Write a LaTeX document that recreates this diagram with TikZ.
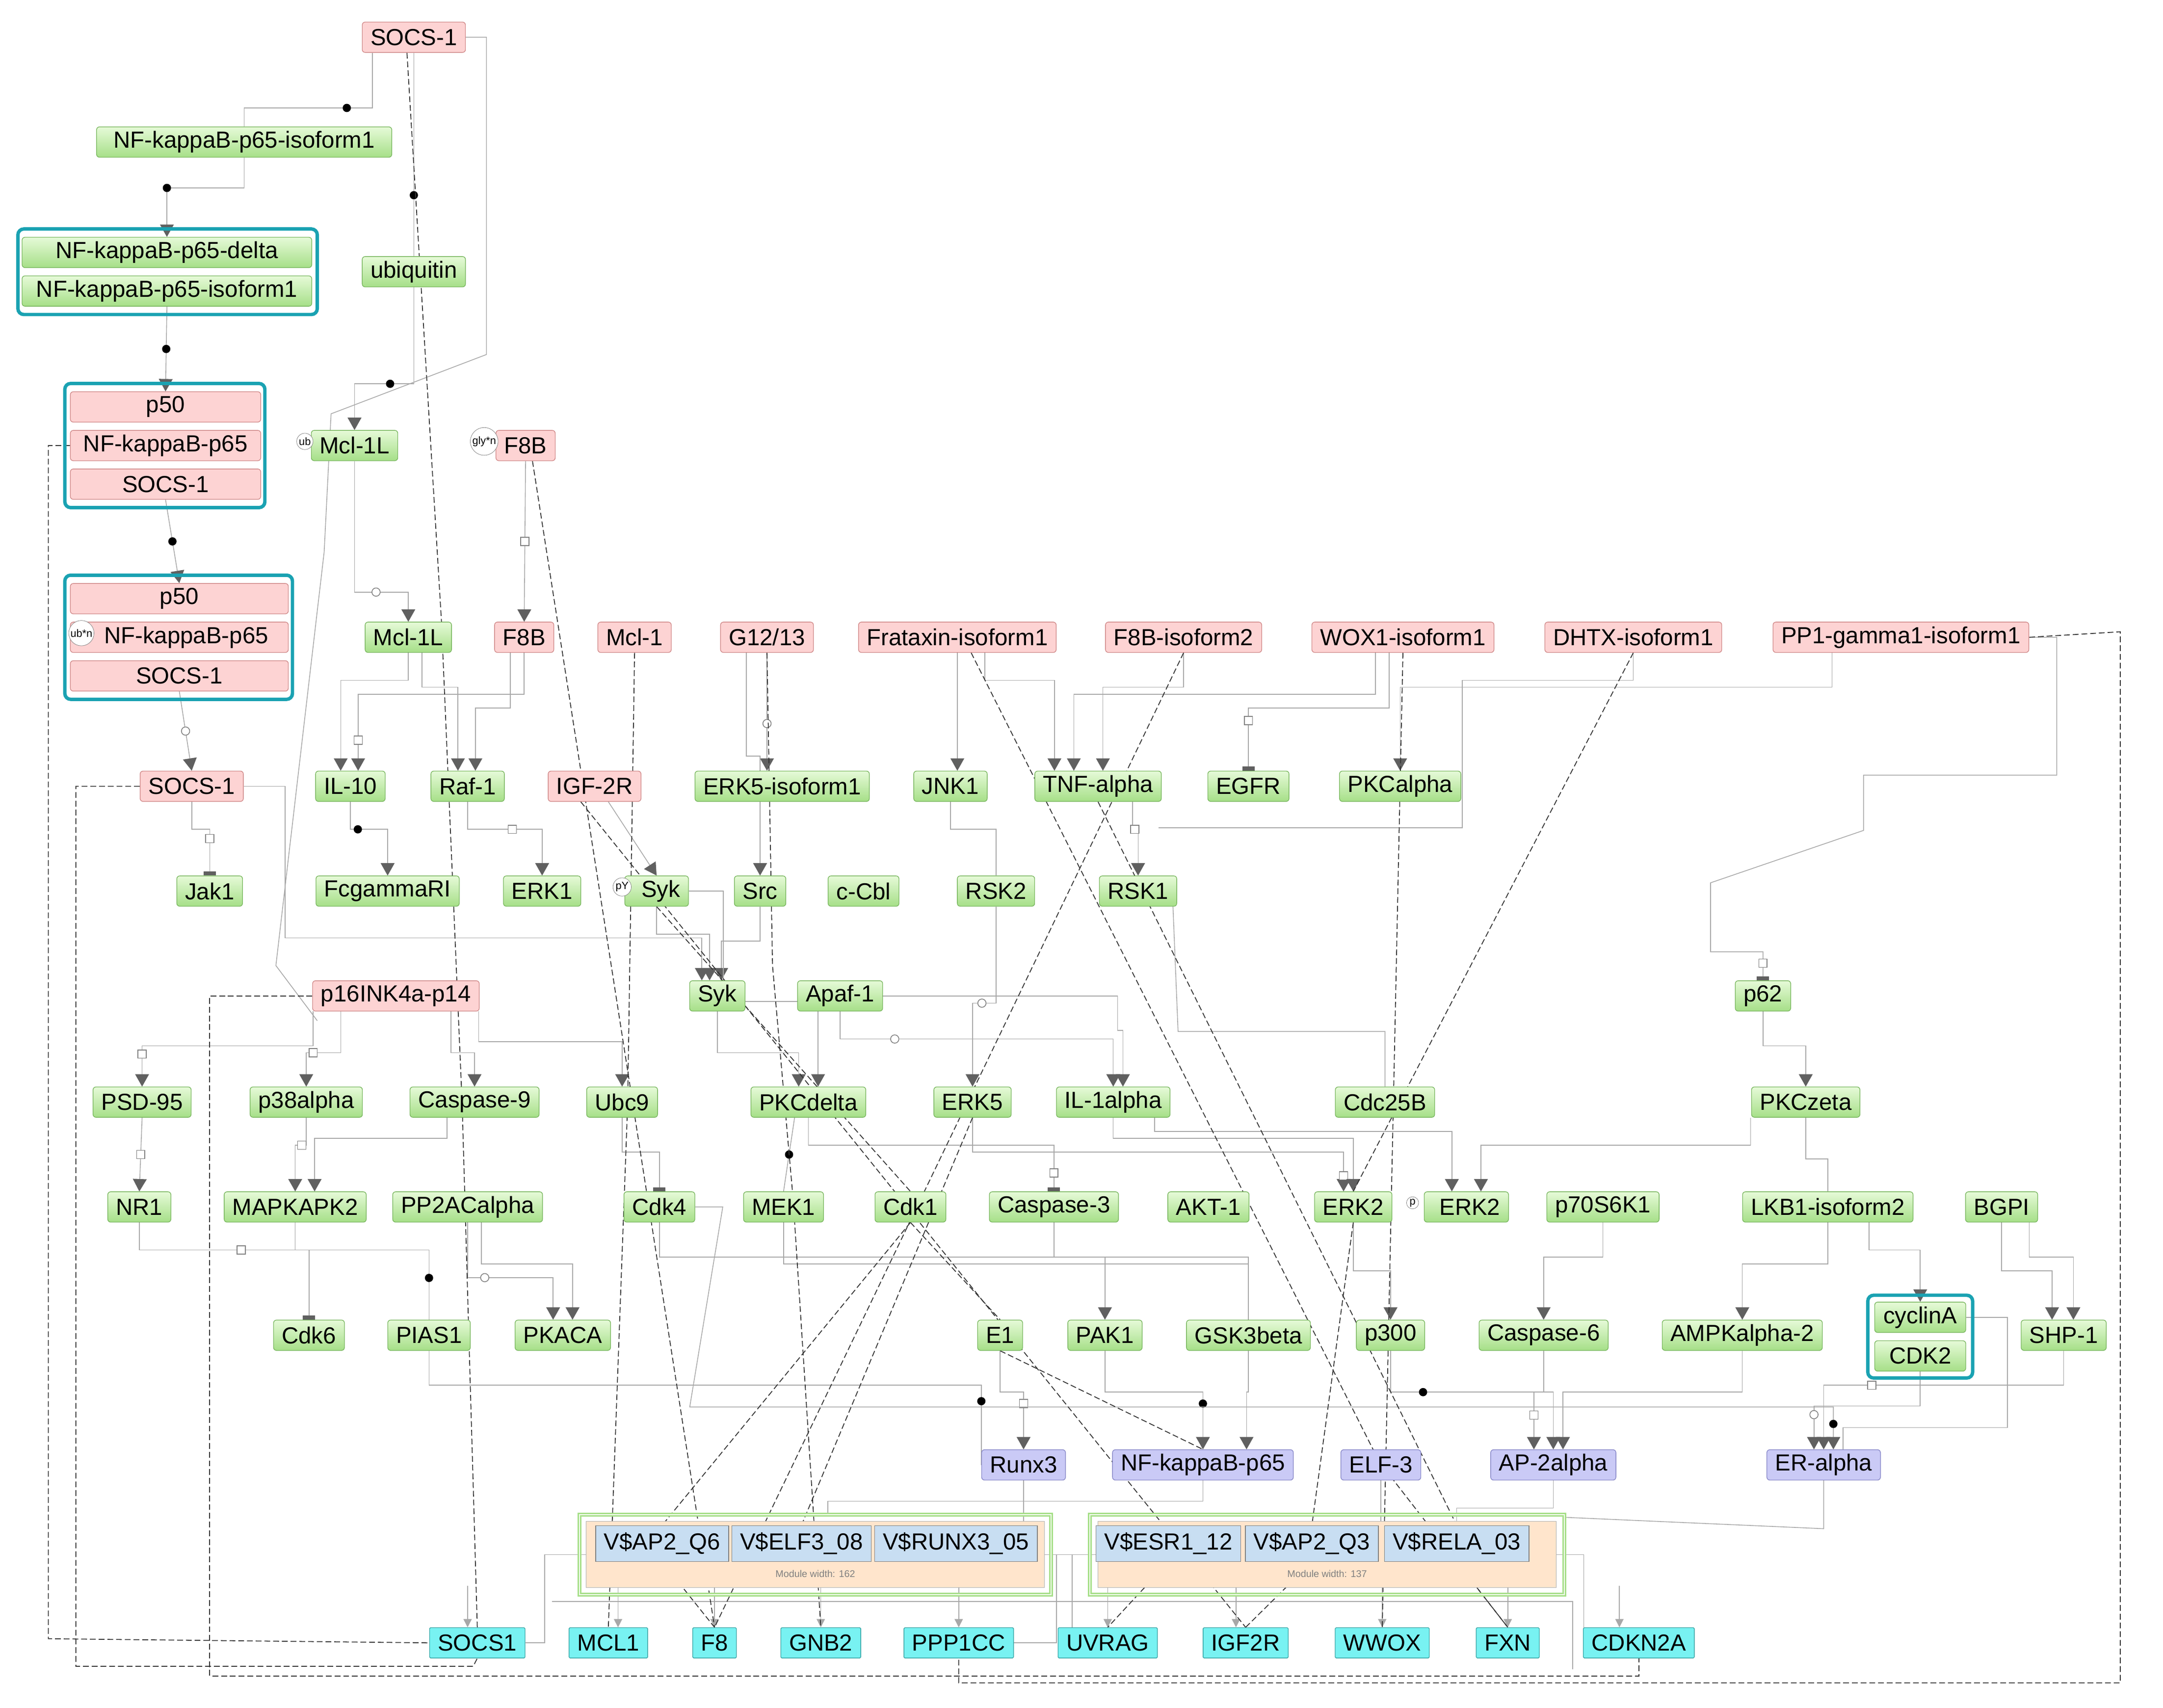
\documentclass[tikz,border=0pt]{standalone}
\usepackage{fontspec}
\setmainfont{Liberation Sans}
\usetikzlibrary{arrows.meta,positioning,backgrounds}
\definecolor{gt}{HTML}{E6FAD8}\definecolor{gb}{HTML}{A6DF88}\definecolor{gd}{HTML}{78B65E}
\definecolor{pf}{HTML}{FDD3D3}\definecolor{pd}{HTML}{D08888}
\definecolor{uf}{HTML}{CACAF6}\definecolor{ud}{HTML}{8888C8}
\definecolor{cf}{HTML}{78F2F2}\definecolor{cd}{HTML}{38A4A4}
\definecolor{tl}{HTML}{1AA2B2}\definecolor{eg}{HTML}{A8A8A8}\definecolor{ah}{HTML}{606060}
\definecolor{cel}{HTML}{C8DEF2}
\tikzset{
 nb/.style={rectangle,rounded corners=3pt,minimum height=1.1cm,inner xsep=0.3cm,font=\fontsize{24}{27}\selectfont,line width=0.7pt},
 gr/.style={nb,top color=gt,bottom color=gb,draw=gd},
 pk/.style={nb,fill=pf,draw=pd},
 pu/.style={nb,fill=uf,draw=ud},
 cy/.style={nb,fill=cf,draw=cd,rounded corners=1pt},
 cell/.style={nb,rounded corners=0pt,fill=cel,draw=gray,minimum height=1.3cm},
 bd/.style={circle,draw=gray,fill=white,inner sep=0.8pt,font=\fontsize{11}{12}\selectfont},
 cxb/.style={tl,line width=3.5pt,rounded corners=6pt},
 ed/.style={draw=eg,line width=0.8pt},
 ar/.style={ed,-{Triangle[width=0.5cm,length=0.45cm,fill=ah,color=ah]}},
 te/.style={ed,-{Rectangle[width=0.45cm,length=0.15cm,fill=ah,color=ah]}},
 da/.style={draw=black!80,line width=0.9pt,dash pattern=on 6pt off 3pt},
 dt/.style={circle,fill=black,inner sep=0pt,minimum size=0.3cm},
 sq/.style={rectangle,draw=gray,fill=white,inner sep=0pt,minimum size=0.3cm},
 oc/.style={circle,draw=gray,fill=white,inner sep=0pt,minimum size=0.3cm},
}
\begin{document}
\begin{tikzpicture}[x=0.05cm,y=-0.05cm]
\useasboundingbox (0,0) rectangle (1568,1238);
% ---------- top chain
\node[pk] (socsT) at (300,27) {SOCS-1};
\node[gr,minimum width=10.7cm] (nfi1) at (177,103) {NF-kappaB-p65-isoform1};
\draw[cxb] (13,166) rectangle (230,228);
\node[gr,minimum width=10.5cm] (cx1a) at (121,183) {NF-kappaB-p65-delta};
\node[gr,minimum width=10.5cm] (cx1) at (121,211) {NF-kappaB-p65-isoform1};
\draw[cxb] (47,278) rectangle (192,368);
\node[pk,minimum width=6.9cm] (cx2) at (120,295) {p50};
\node[pk,minimum width=6.9cm] at (120,323) {NF-kappaB-p65};
\node[pk,minimum width=6.9cm] (cx2c) at (120,351) {SOCS-1};
\draw[cxb] (47,417) rectangle (212,507);
\node[pk,minimum width=7.9cm] (cx3) at (130,434) {p50};
\node[pk,minimum width=7.9cm] (cx3b) at (130,462) {\hspace{0.5cm}NF-kappaB-p65};
\node[bd] at (59,459) {ub*n};
\node[pk,minimum width=7.9cm] (cx3c) at (130,490) {SOCS-1};
\node[gr] (ubi) at (300,197) {ubiquitin};
\node[gr] (mcla) at (257,323) {Mcl-1L}; \node[bd] at (221,320) {ub};
\node[pk] (f8ba) at (381,323) {F8B}; \node[bd] at (351,320) {gly*n};
% ---------- row 462
\node[gr] (mclb) at (296,462) {Mcl-1L};
\node[pk] (f8bb) at (380,462) {F8B};
\node[pk] (mcl1) at (460,462) {Mcl-1};
\node[pk] (g12) at (556,462) {G12/13};
\node[pk] (frat) at (694,462) {Frataxin-isoform1};
\node[pk] (f8bi) at (858,462) {F8B-isoform2};
\node[pk] (wox) at (1017,462) {WOX1-isoform1};
\node[pk] (dhtx) at (1184,462) {DHTX-isoform1};
\node[pk] (pp1) at (1378,462) {PP1-gamma1-isoform1};
% ---------- row 570
\node[pk] (socsM) at (139,570) {SOCS-1};
\node[gr] (il10) at (254,570) {IL-10};
\node[gr] (raf) at (339,570) {Raf-1};
\node[pk] (igf) at (431,570) {IGF-2R};
\node[gr] (erk5i) at (567,570) {ERK5-isoform1};
\node[gr] (jnk) at (689,570) {JNK1};
\node[gr] (tnf) at (796,570) {TNF-alpha};
\node[gr] (egfr) at (905,570) {EGFR};
\node[gr] (pkca) at (1015,570) {PKCalpha};
% ---------- row 646
\node[gr] (jak) at (152,646) {Jak1};
\node[gr] (fcg) at (281,646) {FcgammaRI};
\node[gr] (erk1) at (393,646) {ERK1};
\node[gr] (sykp) at (476,646) {\hspace{0.3cm}Syk}; \node[bd] at (451,643) {pY};
\node[gr] (src) at (551,646) {Src};
\node[gr] (ccbl) at (626,646) {c-Cbl};
\node[gr] (rsk2) at (722,646) {RSK2};
\node[gr] (rsk1) at (825,646) {RSK1};
% ---------- row 722
\node[pk] (p16) at (287,722) {p16INK4a-p14};
\node[gr] (syk) at (520,722) {Syk};
\node[gr] (apaf) at (609,722) {Apaf-1};
\node[gr] (p62) at (1278,722) {p62};
% ---------- row 799
\node[gr] (psd) at (103,799) {PSD-95};
\node[gr] (p38) at (222,799) {p38alpha};
\node[gr] (casp9) at (344,799) {Caspase-9};
\node[gr] (ubc9) at (451,799) {Ubc9};
\node[gr] (pkcd) at (586,799) {PKCdelta};
\node[gr] (erk5) at (705,799) {ERK5};
\node[gr] (il1) at (807,799) {IL-1alpha};
\node[gr] (cdc) at (1004,799) {Cdc25B};
\node[gr] (pkcz) at (1309,799) {PKCzeta};
% ---------- row 875
\node[gr] (nr1) at (101,875) {NR1};
\node[gr] (mapk) at (214,875) {MAPKAPK2};
\node[gr] (pp2a) at (339,875) {PP2ACalpha};
\node[gr] (cdk4) at (478,875) {Cdk4};
\node[gr] (mek1) at (568,875) {MEK1};
\node[gr] (cdk1) at (660,875) {Cdk1};
\node[gr] (casp3) at (764,875) {Caspase-3};
\node[gr] (akt) at (876,875) {AKT-1};
\node[gr] (erk2) at (981,875) {ERK2};
\node[gr] (erk2p) at (1063,875) {\hspace{0.25cm}ERK2}; \node[bd] at (1024,872) {p};
\node[gr] (p70) at (1162,875) {p70S6K1};
\node[gr] (lkb) at (1325,875) {LKB1-isoform2};
\node[gr] (bgpi) at (1451,875) {BGPI};
% ---------- row 968
\node[gr] (cdk6) at (224,968) {Cdk6};
\node[gr] (pias) at (311,968) {PIAS1};
\node[gr] (pkaca) at (408,968) {PKACA};
\node[gr] (e1) at (725,968) {E1};
\node[gr] (pak1) at (801,968) {PAK1};
\node[gr] (gsk) at (905,968) {GSK3beta};
\node[gr] (p300) at (1008,968) {p300};
\node[gr] (casp6) at (1119,968) {Caspase-6};
\node[gr] (ampk) at (1263,968) {AMPKalpha-2};
\draw[cxb] (1354,939) rectangle (1430,999);
\node[gr,minimum width=3.3cm] (cyc) at (1392,955) {cyclinA};
\node[gr,minimum width=3.3cm] (cdk2) at (1392,983) {CDK2};
\node[gr] (shp) at (1496,968) {SHP-1};
% ---------- TFs
\node[pu] (runx) at (742,1062) {Runx3};
\node[pu] (nfkb) at (872,1062) {NF-kappaB-p65};
\node[pu] (elf) at (1001,1062) {ELF-3};
\node[pu] (ap2) at (1126,1062) {AP-2alpha};
\node[pu] (era) at (1322,1062) {ER-alpha};
% ---------- modules
\draw[draw=gb,line width=1.5pt,double=white,double distance=1.2pt] (420,1098) rectangle (762,1156);
\node[draw=gray!60,fill=orange!20,minimum width=16.6cm,minimum height=2.4cm] (modL) at (591,1127) {};
\node[cell] (mA) at (480,1119) {V\$AP2\_Q6};
\node[cell] (mB) at (581,1119) {V\$ELF3\_08};
\node[cell] (mC) at (693,1119) {V\$RUNX3\_05};
\node[font=\fontsize{10}{11}\selectfont,text=gray] at (591,1141) {Module width: 162};
\draw[draw=gb,line width=1.5pt,double=white,double distance=1.2pt] (790,1098) rectangle (1134,1156);
\node[draw=gray!60,fill=orange!20,minimum width=16.6cm,minimum height=2.4cm] (modR) at (962,1127) {};
\node[cell] (mD) at (847,1119) {V\$ESR1\_12};
\node[cell] (mE) at (951,1119) {V\$AP2\_Q3};
\node[cell] (mF) at (1056,1119) {V\$RELA\_03};
\node[font=\fontsize{10}{11}\selectfont,text=gray] at (962,1141) {Module width: 137};
% ---------- genes
\node[cy] (gS) at (346,1191) {SOCS1};
\node[cy] (gM) at (441,1191) {MCL1};
\node[cy] (gF) at (518,1191) {F8};
\node[cy] (gG) at (595,1191) {GNB2};
\node[cy] (gP) at (695,1191) {PPP1CC};
\node[cy] (gU) at (803,1191) {UVRAG};
\node[cy] (gI) at (903,1191) {IGF2R};
\node[cy] (gW) at (1002,1191) {WWOX};
\node[cy] (gX) at (1093,1191) {FXN};
\node[cy] (gC) at (1188,1191) {CDKN2A};
\begin{scope}[on background layer]
\fill[white] (0,0) rectangle (1568,1238);
% solid chain
\draw[ed] (socsT.south) ++(-30,0) -- ++(0,40) -| node[dt,pos=0.1]{} (nfi1.north);
\draw[ar] (nfi1.south) -- ++(0,22) -| node[dt,pos=0.5]{} (cx1a.north);
\draw[ar] (cx1.south) -- node[dt]{}(cx2.north);
\draw[ar] (cx2c.south) -- node[dt]{} (cx3.north);
\draw[ar] (cx3c.south) -- node[oc]{} (socsM.north);
\draw[ed] (socsT.south) -- node[dt,pos=0.7]{} (ubi.north);
\draw[ar] (ubi.south) -- ++(0,70) -| node[dt,pos=0.2]{} (mcla.north);
\draw[ar] (mcla.south) -- ++(0,95) -| node[oc,pos=0.2]{} (mclb.north);
\draw[ar] (f8ba.south) -- node[sq]{} (f8bb.north);
\draw[ed] (socsT.east) -- ++(15,0) -- ++(0,230) -- (240,300) -- (235,400) -- (200,700) -- (230,740);
% into row 570
\draw[ar] (mclb.south) -- ++(0,20) -| ([xshift=-10]il10.north);
\draw[ar] (f8bb.south) -- ++(0,30) -| node[sq,pos=0.8]{} ([xshift=8]il10.north);
\draw[ar] (mclb.south) ++(10,0) -- ++(0,25) -| ([xshift=-10]raf.north);
\draw[ar] (f8bb.south) ++(-10,0) -- ++(0,40) -| ([xshift=8]raf.north);
\draw[ar] (g12.south) -- node[oc,pos=0.6]{} (erk5i.north -| g12);
\draw[ar] (frat.south) -- (jnk.north -| frat);
\draw[ar] (f8bi.south) -- ++(0,25) -| ([xshift=5]tnf.north);
\draw[ar] (wox.south) ++(-20,0) -- ++(0,30) -| ([xshift=-25]tnf.north);
\draw[ar] (frat.south) ++(20,0) -- ++(0,20) -| ([xshift=-45]tnf.north);
\draw[te] (wox.south) ++(-10,0) -- ++(0,40) -| node[sq,pos=0.6]{} (egfr.north);
\draw[ar] (pp1.south) ++(-50,0) -- ++(0,25) -| (pkca.north);
\draw[ed] (dhtx.south) -- ++(0,20) -| (1060,540) -- (1060,600) -- (840,600);
\draw[te] (pp1.east) -- ++(20,0) -- ++(0,100) -- ++(-140,0) -- ++(0,40) -- (1240,640) -- (1240,690) -| node[sq,pos=0.7]{} (p62.north);
\draw[ar] (p62.south) -- ++(0,25) -| (pkcz.north);
% row 646
\draw[te] (socsM.south) -- ++(0,20) -| node[sq,pos=0.6]{} (jak.north);
\draw[ar] (il10.south) -- ++(0,20) -| node[dt,pos=0.1]{} (fcg.north);
\draw[ar] (raf.south) -- ++(0,20) -| node[sq,pos=0.3]{} (erk1.north);
\draw[ar] (igf.south) ++(10,0) -- (sykp.north);
\draw[ar] (g12.south) ++(-15,0) -- ++(0,75) -| (src.north);
\draw[ar] (tnf.south) ++(25,0) -- ++(0,20) -| node[sq,pos=0.2]{} (rsk1.north);
\draw[ed] (jnk.south) -- ++(0,20) -| (rsk2.north);
% syk
\draw[ar] (sykp.south) -- ++(0,20) -| ([xshift=-8]syk.north);
\draw[ar] (src.south) -- ++(0,25) -| ([xshift=4]syk.north);
\draw[ar] (socsM.east) -- ++(30,0) -- ++(0,110) -- (340,680) -| ([xshift=-16]syk.north);
% p16
\draw[ar] (p16.south) ++(-60,0) -- ++(0,25) -| node[sq,pos=0.6]{} (psd.north);
\draw[ar] (p16.south) ++(-40,0) -- ++(0,30) -| node[sq,pos=0.4]{} (p38.north);
\draw[ar] (p16.south) ++(40,0) -- ++(0,30) -| (casp9.north);
\draw[ar] (p16.south) ++(60,0) -- ++(0,22) -| (ubc9.north);
\draw[ar] (syk.south) -- ++(0,30) -| ([xshift=-10]pkcd.north);
\draw[ar] (sykp.east) -- ++(25,0) -- ++(0,80) -| ([xshift=10]pkcd.north);
\draw[ar] (apaf.south) -- ++(0,20) -| node[oc,pos=0.1]{} (il1.north);
\draw[ar] (rsk2.south) -- ++(0,70) -| node[oc,pos=0.3]{} (erk5.north);
\draw[ar] (apaf.east) -- ++(170,0) -- ++(0,25) -| ([xshift=10]il1.north);
\draw[ed] (cdc.north) -- ++(0,-40) -- ++(-150,0) -- (850,650);
% row 875
\draw[ar] (psd.south) -- node[sq]{} (nr1.north);
\draw[ar] (p38.south) -- ++(0,20) -| node[sq,pos=0.2]{} (mapk.north);
\draw[ar] (casp9.south) ++(-20,0) -- ++(0,15) -| ([xshift=20]mapk.north);
\draw[te] (ubc9.south) -- ++(0,25) -| (cdk4.north);
\draw[te] (pkcd.south) -- ++(0,20) -| node[sq,pos=0.8]{} (casp3.north);
\draw[ar] (erk5.south) -- ++(0,25) -| node[sq,pos=0.8]{} ([xshift=-10]erk2.north);
\draw[ar] (il1.south) -- ++(0,15) -| (erk2.north);
\draw[ar] (il1.south) ++(30,0) -- ++(0,10) -| ([xshift=-15]erk2p.north);
\draw[ar] (pkcz.south) ++(-40,0) -- ++(0,20) -| ([xshift=15]erk2p.north);
\draw[ed] (pkcz.south) -- ++(0,30) -| (lkb.north);
\draw[ed] (pkcd.south) ++(-10,0) -- node[dt,pos=0.5]{} (mek1.north);
% row 968
\draw[te] (nr1.south) -- ++(0,20) -| node[sq,pos=0.3]{} (cdk6.north);
\draw[ed] (mapk.south) -- ++(0,20) -| node[dt,pos=0.7]{} (pias.north);
\draw[ar] (pp2a.south) -- ++(0,40) -| node[oc,pos=0.1]{} ([xshift=-10]pkaca.north);
\draw[ar] (pp2a.south) ++(10,0) -- ++(0,30) -| ([xshift=10]pkaca.north);
\draw[ar] (cdk4.south) -- ++(0,25) -| (pak1.north);
\draw[ed] (mek1.south) -- ++(0,30) -| (gsk.north);
\draw[ed] (casp3.south) -- ++(0,25) -| (gsk.north);
\draw[ar] (erk2.south) -- ++(0,35) -| (p300.north);
\draw[ar] (p70.south) -- ++(0,25) -| (casp6.north);
\draw[ar] (lkb.south) -- ++(0,30) -| (ampk.north);
\draw[ar] (lkb.south) ++(30,0) -- ++(0,20) -| (cyc.north);
\draw[ar] (bgpi.south) -- ++(0,35) -| ([xshift=-12]shp.north);
\draw[ar] (bgpi.south) ++(20,0) -- ++(0,25) -| ([xshift=10]shp.north);
% TFs
\draw[ed] (pias.south) -- ++(0,25) -| node[dt,pos=0.6]{} (runx.west);
\draw[ar] (pak1.south) -- ++(0,30) -| node[dt,pos=0.6]{} (nfkb.north);
\draw[ar] (gsk.south) -- ++(0,30) -| ([xshift=45]nfkb.north);
\draw[ar] (e1.south) -- ++(0,30) -| node[sq,pos=0.6]{} (runx.north);
\draw[ar] (p300.south) -- ++(0,30) -| node[dt,pos=0.1]{} (ap2.north);
\draw[ar] (casp6.south) -- ++(0,30) -| node[sq,pos=0.7]{} ([xshift=-20]ap2.north);
\draw[ar] (ampk.south) -- ++(0,30) -| ([xshift=10]ap2.north);
\draw[ar] (cdk2.south) -- ++(0,25) -| node[oc,pos=0.6]{} ([xshift=-10]era.north);
\draw[ar] (shp.south) -- ++(0,25) -| node[sq,pos=0.4]{} (era.north);
\draw[ar] (cdk4.east) -- ++(20,0) -- (500,1020) -| node[dt,pos=0.7]{} ([xshift=10]era.north);
\draw[ed] (cyc.east) -- ++(30,0) -- ++(0,80) -| ([xshift=20]era.north);
% TFs to modules / genes
\draw[ed] (runx.south) -- (mC.north -| runx);
\draw[ed] (elf.south) -- (mF.north -| elf);
\draw[ed] (ap2.south) -- ++(0,20) -| (mF.north);
\draw[ed] (era.south) -- ++(0,35) -- (1134,1100);
\draw[ed] (nfkb.south) -- ++(0,15) -| (600,1098);
\foreach \g/\x in {gS/-10,gM/10,gF/0,gG/0,gP/0,gU/0,gI/-10,gW/0,gX/0,gC/-20}{
  \draw[ed,-{Triangle[width=0.3cm,length=0.3cm,fill=eg,color=eg]}] ([xshift=\x]\g.north) ++(0,-30) -- ([xshift=\x]\g.north);}
\draw[ed] (modL.west) -- ++(-30,0) |- (gS.east);
\draw[ed] (modL.east) -- ++(20,0) |- (gU.west);
\draw[ed] (modR.west) -- ++(-30,0) |- (gP.east);
\draw[ed] (modR.east) -- ++(20,0) |- (gC.west);
\draw[ed] (400,1161) -| (1140,1210);
% dashed
\draw[da] (socsT.south) ++(-5,0) -- (320,450) -- (335,800) -- (gS.north);
\draw[da] (f8ba.south) ++(5,0) -- (gF.north);
\draw[da] (mcl1.south) -- (455,800) -- (gM.north);
\draw[da] (g12.south) -- (560,700) -- (575,870) -- (gG.north);
\draw[da] (frat.south) ++(10,0) -- (1000,1060) -- (gX.north);
\draw[da] (f8bi.south) -- (gF.north);
\draw[da] (wox.south) -- (gW.north);
\draw[da] (dhtx.south) -- (erk2.north);
\draw[da] (pp1.east) -- (1537,458) -- (1537,1220) -- (695,1220) -- (gP.south);
\draw[da] (igf.south) ++(-10,0) -- (gI.north);
\draw[da] (p16.west) -- (152,722) -- (152,1215) -- (1188,1215) -- (gC.south);
\draw[da] (socsM.west) -- (55,570) -- (55,1208) -- (343,1208) -- (gS.south);
\draw[da] (cx2c.west) ++(0,-28) -- (35,323) -- (35,1188) -- (gS.west);
\draw[da] (sykp.south) -- (cdk1.north);
\draw[da] (cdk1.south) -- (mA.north);
\draw[da] (cdk1.south) -- (e1.north);
\draw[da] (erk5.south) -- (mB.north);
\draw[da] (e1.south) -- (nfkb.north);
\draw[da] (erk2.south) -- (mE.north);
\draw[da] (tnf.south) -- (mF.north);
\draw[da] (mD.south) -- (gU.north);
\draw[da] (mE.south) -- (gI.north);
\draw[da] (mF.south) -- (gX.north);
\draw[da] (mA.south) -- (gF.north);
\end{scope}
\end{tikzpicture}
\end{document}
